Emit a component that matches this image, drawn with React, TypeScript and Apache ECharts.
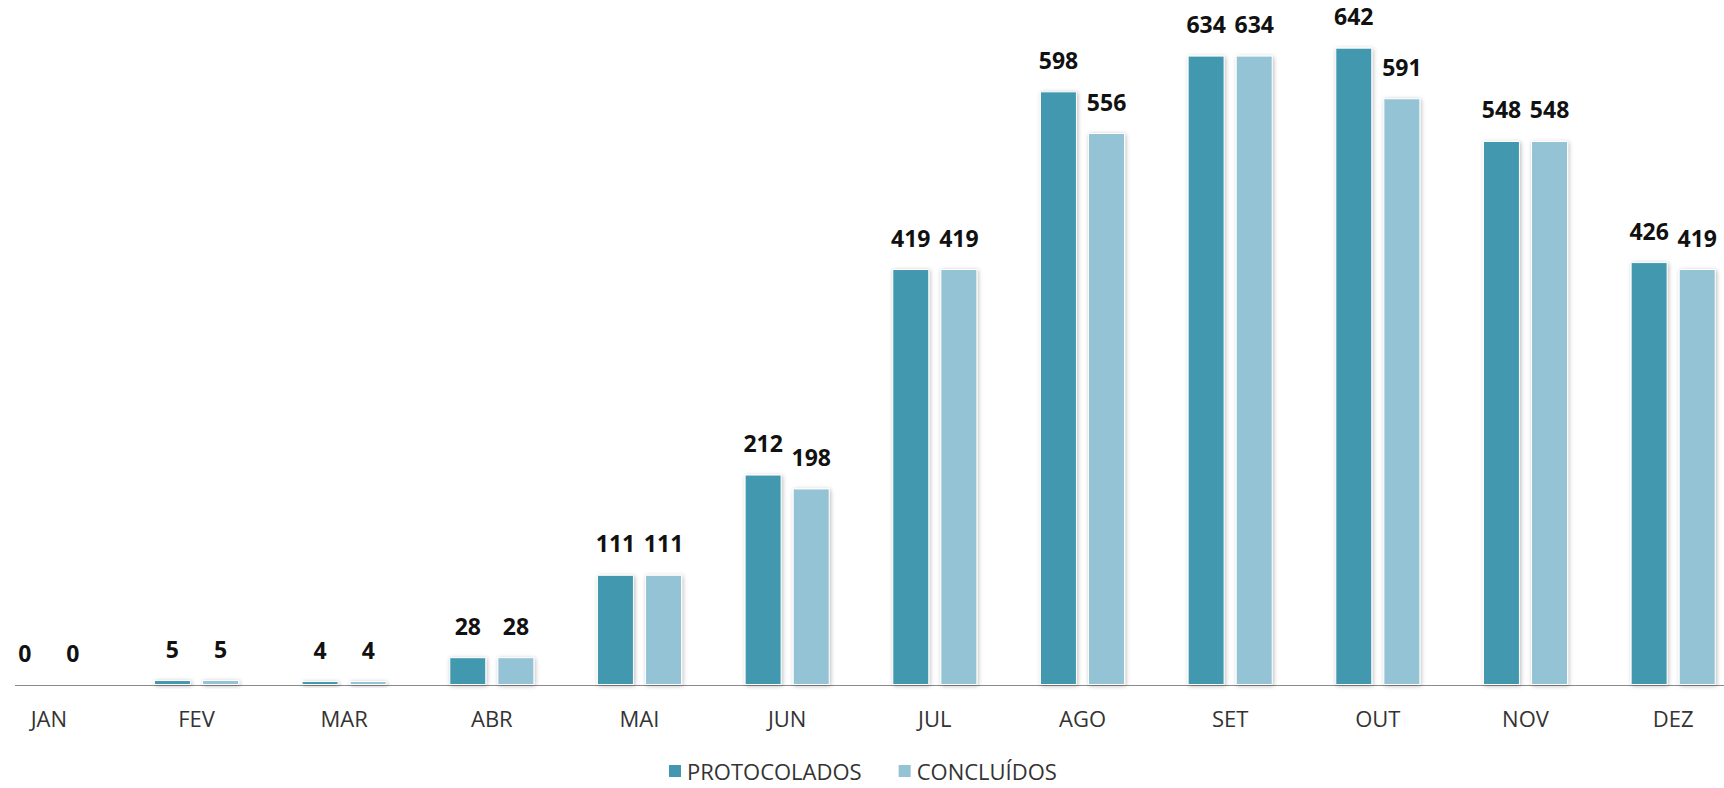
import React, { useEffect, useRef } from "react";
import * as echarts from "echarts";

const months = ["JAN", "FEV", "MAR", "ABR", "MAI", "JUN", "JUL", "AGO", "SET", "OUT", "NOV", "DEZ"];
const protocolados = [0, 5, 4, 28, 111, 212, 419, 598, 634, 642, 548, 426];
const concluidos = [0, 5, 4, 28, 111, 198, 419, 556, 634, 591, 548, 419];
const seriesNames = ["PROTOCOLADOS", "CONCLUÍDOS"];
const colors = ["#4398AF", "#93C3D4"];

const OFFSET = 25;

export default function App() {
  const ref = useRef<HTMLDivElement>(null);
  useEffect(() => {
    document.body.style.margin = "0";
    const chart = echarts.init(ref.current!, null, { renderer: "svg" });
    const font = "'Open Sans', 'Noto Sans', sans-serif";
    const mkSeries = (name: string, data: number[], color: string) => ({
      name,
      type: "bar",
      data,
      barWidth: 37,
      barGap: "30%",
      itemStyle: {
        color,
        borderColor: "#ffffff",
        borderWidth: 1,
        shadowColor: "rgba(0,0,0,0.28)",
        shadowBlur: 4,
        shadowOffsetX: 1,
        shadowOffsetY: 1,
      },
      label: {
        show: true,
        position: "top",
        distance: 20,
        color: "#111111",
        fontFamily: font,
        fontWeight: "bold",
        fontSize: 23,
      },
    });
    chart.setOption({
      animation: false,
      backgroundColor: "#ffffff",
      grid: { left: 0, right: 0, top: 0, bottom: 103, containLabel: false },
      legend: {
        data: seriesNames,
        top: 759,
        left: 667 + OFFSET,
        padding: 0,
        itemWidth: 14,
        itemHeight: 14,
        itemGap: 35,
        icon: "rect",
        textStyle: { fontFamily: font, fontSize: 22, lineHeight: 24, color: "#333333" },
      },
      xAxis: {
        type: "category",
        data: months,
        axisLine: { show: false },
        axisTick: { show: false },
        axisLabel: { fontFamily: font, fontSize: 22, color: "#333333", margin: 22 },
      },
      yAxis: {
        type: "value",
        min: 0,
        max: 690,
        show: false,
        splitLine: { show: false },
      },
      graphic: [
        {
          type: "line",
          shape: { x1: 15 + OFFSET, y1: 685.5, x2: 1724 + OFFSET, y2: 685.5 },
          style: { stroke: "#8a8a8a", lineWidth: 1.2 },
          z: 0,
        },
      ],
      series: [
        mkSeries(seriesNames[0], protocolados, colors[0]),
        mkSeries(seriesNames[1], concluidos, colors[1]),
      ],
    });
    return () => chart.dispose();
  }, []);
  return (
    <div style={{ position: "relative", width: 1724, height: 788, overflow: "hidden" }}>
      <div ref={ref} style={{ position: "absolute", left: -OFFSET, top: 0, width: 1772, height: 788 }} />
    </div>
  );
}
